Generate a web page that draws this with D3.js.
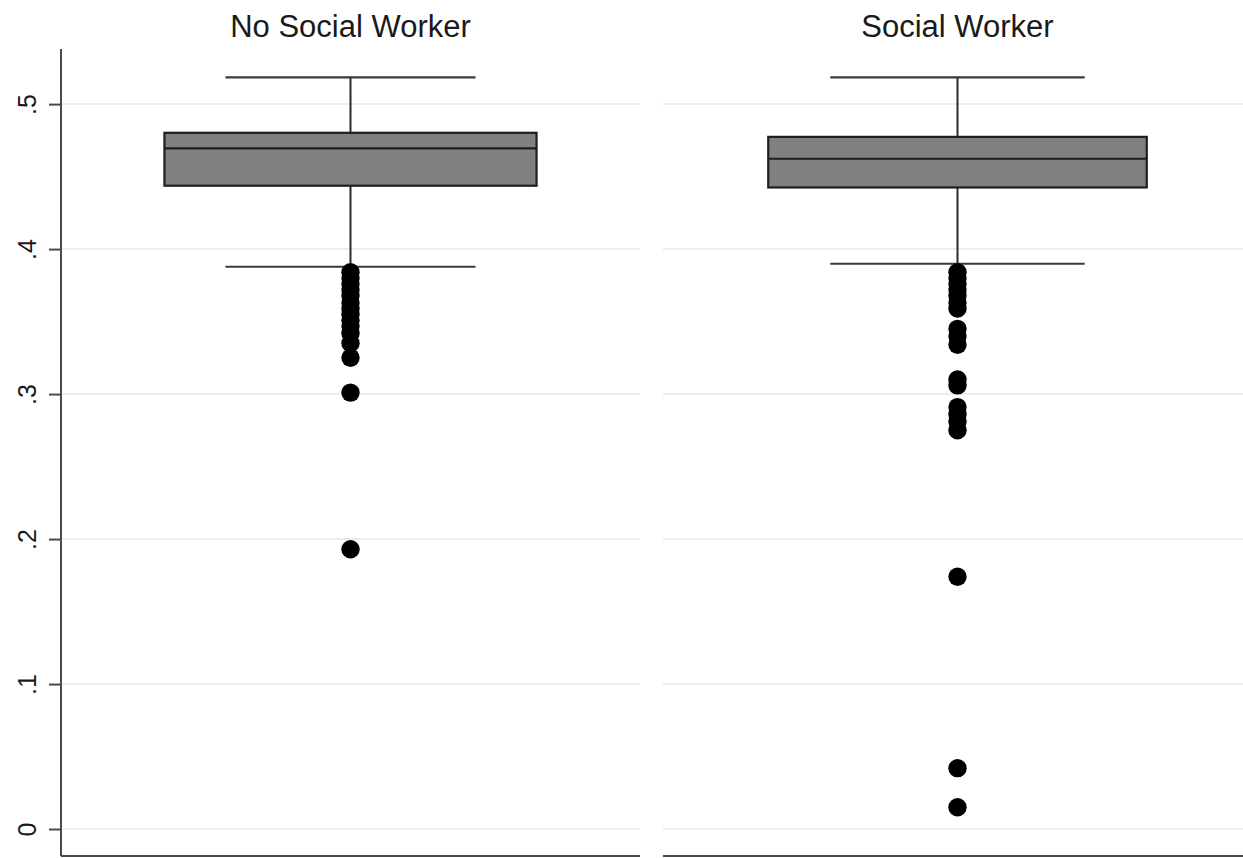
<!DOCTYPE html>
<html>
<head>
<meta charset="utf-8">
<script src="https://cdn.jsdelivr.net/npm/d3@7"></script>
<style>
  html, body { margin: 0; padding: 0; background: #fff; }
  svg { display: block; }
  text { font-family: "Liberation Sans", Arial, sans-serif; fill: #1a1a1a; }
</style>
</head>
<body>
<svg id="chart" width="1243" height="858"></svg>
<script>
// Groups shown as side-by-side panels
const groups = ["No Social Worker", "Social Worker"];

// Box summaries per group: [lower whisker, Q1, median, Q3, upper whisker]
const noSWBox = [0.3878, 0.4437, 0.4694, 0.4802, 0.5184];
const swBox   = [0.3899, 0.4425, 0.4623, 0.4774, 0.5184];

// Outside values per group
const noSWOutliers = [0.384, 0.380, 0.376, 0.372, 0.368, 0.363, 0.359, 0.355,
                      0.351, 0.347, 0.342, 0.335, 0.325, 0.301, 0.193];
const swOutliers   = [0.384, 0.380, 0.376, 0.372, 0.368, 0.363, 0.359,
                      0.345, 0.340, 0.334, 0.310, 0.306, 0.291, 0.286,
                      0.281, 0.275, 0.174, 0.042, 0.015];

// Y axis ticks and their labels
const yTicks = [0, 0.1, 0.2, 0.3, 0.4, 0.5];
const yTickLabels = ["0", ".1", ".2", ".3", ".4", ".5"];

const svg = d3.select("#chart");

const y = d3.scaleLinear().domain([-0.0186, 0.538]).range([856, 49]);

// Each panel: horizontal extent on the page
const panels = [
  { name: groups[0], x0: 61,  x1: 640,  box: noSWBox, out: noSWOutliers },
  { name: groups[1], x0: 663, x1: 1252, box: swBox,   out: swOutliers }
];

const gridColor = "#e6eff1";
const axisColor = "#4a4a4a";

panels.forEach(p => {
  const x = d3.scaleBand().domain([p.name]).range([p.x0, p.x1])
    .paddingInner(0).paddingOuter(0.278);
  const cx = x(p.name) + x.bandwidth() / 2;
  const half = x.bandwidth() / 2;
  const capHalf = half * 0.672;
  const g = svg.append("g");

  // gridlines
  g.selectAll("line.grid").data(yTicks).join("line")
    .attr("class", "grid")
    .attr("x1", p.x0).attr("x2", Math.min(p.x1, 1243))
    .attr("y1", d => y(d)).attr("y2", d => y(d))
    .attr("stroke", gridColor).attr("stroke-width", 2);

  // bottom axis line
  g.append("line")
    .attr("x1", p.x0).attr("x2", Math.min(p.x1, 1243))
    .attr("y1", 856).attr("y2", 856)
    .attr("stroke", axisColor).attr("stroke-width", 2);

  const [lo, q1, med, q3, hi] = p.box;

  // whiskers
  g.append("line").attr("x1", cx).attr("x2", cx)
    .attr("y1", y(hi)).attr("y2", y(q3))
    .attr("stroke", "#2a2a2a").attr("stroke-width", 2);
  g.append("line").attr("x1", cx).attr("x2", cx)
    .attr("y1", y(q1)).attr("y2", y(lo))
    .attr("stroke", "#2a2a2a").attr("stroke-width", 2);

  // caps
  [lo, hi].forEach(v => {
    g.append("line")
      .attr("x1", cx - capHalf).attr("x2", cx + capHalf)
      .attr("y1", y(v)).attr("y2", y(v))
      .attr("stroke", "#3a3a3a").attr("stroke-width", 2.2);
  });

  // box
  g.append("rect")
    .attr("x", cx - half).attr("width", 2 * half)
    .attr("y", y(q3)).attr("height", y(q1) - y(q3))
    .attr("fill", "#808080").attr("stroke", "#1e1e1e").attr("stroke-width", 2.2);

  // median
  g.append("line")
    .attr("x1", cx - half).attr("x2", cx + half)
    .attr("y1", y(med)).attr("y2", y(med))
    .attr("stroke", "#1e1e1e").attr("stroke-width", 2.2);

  // outside values
  g.selectAll("circle").data(p.out).join("circle")
    .attr("cx", cx).attr("cy", d => y(d)).attr("r", 9.2)
    .attr("fill", "#000");

  // panel title
  svg.append("text")
    .attr("x", cx).attr("y", 37)
    .attr("text-anchor", "middle")
    .attr("font-size", 31)
    .text(p.name);
});

// left y axis
const yAxis = d3.axisLeft(y).tickValues(yTicks)
  .tickFormat((d, i) => yTickLabels[i]).tickSize(12).tickSizeOuter(0);
const ax = svg.append("g").attr("transform", "translate(61,0)").call(yAxis);
ax.select(".domain").attr("stroke", axisColor).attr("stroke-width", 2)
  .attr("d", `M0,${y.range()[1]}V${y.range()[0]}`);
ax.selectAll(".tick line").attr("stroke", axisColor).attr("stroke-width", 2);
ax.selectAll(".tick text")
  .attr("font-size", 25)
  .attr("font-family", "'Liberation Sans', Arial, sans-serif")
  .attr("fill", "#1a1a1a")
  .attr("x", 0).attr("dy", 0)
  .attr("text-anchor", "middle")
  .attr("transform", "translate(-25,0) rotate(-90)");
</script>
</body>
</html>
